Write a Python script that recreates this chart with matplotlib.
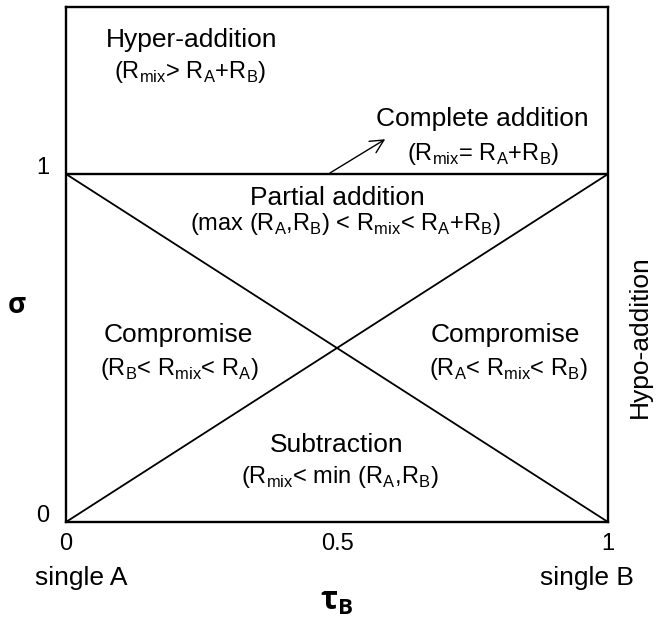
import matplotlib
matplotlib.use('Agg')
import matplotlib.pyplot as plt
import matplotlib.transforms as mtransforms

plt.rcParams['font.family'] = ['Liberation Sans', 'DejaVu Sans']
plt.rcParams['mathtext.fontset'] = 'custom'
plt.rcParams['mathtext.rm'] = 'Liberation Sans'
plt.rcParams['mathtext.bf'] = 'Open Sans:bold'

# boundary lines of the diagram (tau_B, sigma)
full_x = [0, 1]
full_line = [1, 1]
rise = [0, 1]
fall = [1, 0]

x_ticks = [0, 0.5, 1]
x_ticklabels = ['0', '0.5', '1']
y_ticks = [0, 1]
y_ticklabels = ['0', '1']

# region labels: (x, baseline y, title, condition x, condition baseline y, condition)
regions = [
    (0.231, 1.365, 'Hyper-addition', 0.229, 1.276,
     r'(R$_\mathregular{mix}$> R$_\mathregular{A}$+R$_\mathregular{B}$)'),
    (0.768, 1.138, 'Complete addition', 0.769, 1.040,
     r'(R$_\mathregular{mix}$= R$_\mathregular{A}$+R$_\mathregular{B}$)'),
    (0.501, 0.911, 'Partial addition', 0.515, 0.839,
     r'(max (R$_\mathregular{A}$,R$_\mathregular{B}$) < R$_\mathregular{mix}$< R$_\mathregular{A}$+R$_\mathregular{B}$)'),
    (0.207, 0.517, 'Compromise', 0.210, 0.422,
     r'(R$_\mathregular{B}$< R$_\mathregular{mix}$< R$_\mathregular{A}$)'),
    (0.810, 0.517, 'Compromise', 0.817, 0.422,
     r'(R$_\mathregular{A}$< R$_\mathregular{mix}$< R$_\mathregular{B}$)'),
    (0.500, 0.201, 'Subtraction', 0.506, 0.112,
     r'(R$_\mathregular{mix}$< min (R$_\mathregular{A}$,R$_\mathregular{B}$)'),
]

fig = plt.figure(figsize=(6.58, 6.23), dpi=100)
ax = fig.add_axes([66 / 658, 1 - 522 / 623, 542 / 658, 515 / 623])

ax.plot(full_x, full_line, color='black', lw=1.7, solid_capstyle='butt')
ax.plot(full_x, rise, color='black', lw=1.3)
ax.plot(full_x, fall, color='black', lw=1.3)

ax.set_xlim(0, 1)
ax.set_ylim(0, 1.48)
for s in ax.spines.values():
    s.set_linewidth(1.7)

ax.set_xticks(x_ticks)
ax.set_xticklabels(x_ticklabels)
ax.set_yticks(y_ticks)
ax.set_yticklabels(y_ticklabels)
ax.tick_params(length=0, labelsize=17)
ax.tick_params(axis='x', pad=8)
ax.tick_params(axis='y', pad=12)
shift = mtransforms.ScaledTranslation(0, 6 / 72, fig.dpi_scale_trans)
for lab in ax.get_yticklabels():
    lab.set_transform(lab.get_transform() + shift)

for x, y, title, cx, cy, cond in regions:
    ax.text(x, y, title, ha='center', va='baseline', fontsize=19)
    ax.text(cx, cy, cond, ha='center', va='baseline', fontsize=17)

ax.annotate('', xy=(0.589, 1.10), xytext=(0.487, 1.003),
            arrowprops=dict(arrowstyle='->', color='black', lw=1, mutation_scale=24,
                            shrinkA=0, shrinkB=0))

fig.text(0.973, 0.459, 'Hypo-addition', rotation=90, ha='center', va='center', fontsize=19)
fig.text(0.123, 1 - 585 / 623, 'single A', ha='center', va='baseline', fontsize=19)
fig.text(0.892, 1 - 585 / 623, 'single B', ha='center', va='baseline', fontsize=19)

fig.text(0.025, 0.510, 'σ', ha='center', va='center', fontsize=20,
         fontweight='bold', family=['Open Sans', 'DejaVu Sans'])
fig.text(0.511, 0.034, r'$\mathbf{\tau_B}$', ha='center', va='center', fontsize=23)

fig.savefig('out.png', dpi=100)
